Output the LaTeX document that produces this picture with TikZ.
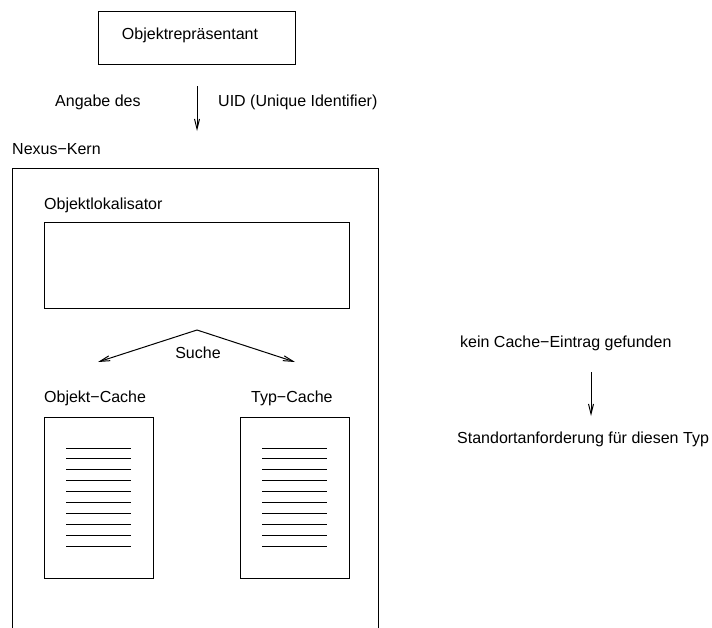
\documentclass[tikz,border=0pt]{standalone}
\usepackage{fontspec}
\setmainfont{Liberation Sans}
\usetikzlibrary{arrows.meta}
\begin{document}
\begin{tikzpicture}[x=1pt,y=-1pt,
  lbl/.style={inner sep=0pt, anchor=base west, font=\fontsize{16}{19}\selectfont},
  box/.style={draw, line width=1pt, inner sep=0pt},
  rule/.style={line width=1pt},
  arr/.style={-{Straight Barb[length=10pt,width=5pt]}, line width=1pt}]
\useasboundingbox (0,0) rectangle (712,627);
\clip (0,0) rectangle (712,627);
% top object representative
\node[box, minimum width=197pt, minimum height=53pt] (rep) at (196.5,37.5) {};
\node[lbl, anchor=base] (reptxt) at (190,39) {Objektrepräsentant};
% arrow with labels
\coordinate (a1s) at (197,86);
\coordinate (a1e) at (197,131);
\draw[arr] (a1s) -- (a1e);
\node[lbl] (angabe) at (55,106) {Angabe des};
\node[lbl] (uid) at (218,106) {UID (Unique Identifier)};
% Nexus kernel
\node[lbl] (kerntxt) at (12,154) {Nexus−Kern};
\node[box, minimum width=366pt, minimum height=480pt, anchor=north west] (kern) at (12,168) {};
\node[lbl] (loktxt) at (44,209) {Objektlokalisator};
\node[box, minimum width=305pt, minimum height=86pt] (lok) at (196.5,265) {};
% Suche arrows
\coordinate (apex) at (197,330);
\coordinate (sl) at (98,362);
\coordinate (sr) at (295,362);
\draw[arr] (apex) -- (sl);
\draw[arr] (apex) -- (sr);
\node[lbl, anchor=base] (suche) at (198,358) {Suche};
% caches
\node[lbl] (octxt) at (44,402) {Objekt−Cache};
\node[lbl] (tctxt) at (251,402) {Typ−Cache};
\node[box, minimum width=109pt, minimum height=161pt] (oc) at (98.5,497.5) {};
\node[box, minimum width=109pt, minimum height=161pt] (tc) at (294.5,497.5) {};
\foreach \i in {0,...,9} {
  \draw[rule] ({66},{448+\i*10.9}) -- ({131},{448+\i*10.9});
  \draw[rule] ({262},{448+\i*10.9}) -- ({327},{448+\i*10.9});
}
% right side
\node[lbl] (kein) at (460,347) {kein Cache−Eintrag gefunden};
\coordinate (a2s) at (591,372);
\coordinate (a2e) at (591,416);
\draw[arr] (a2s) -- (a2e);
\node[lbl] (stand) at (457,443) {Standortanforderung für diesen Typ};
\end{tikzpicture}
\end{document}
